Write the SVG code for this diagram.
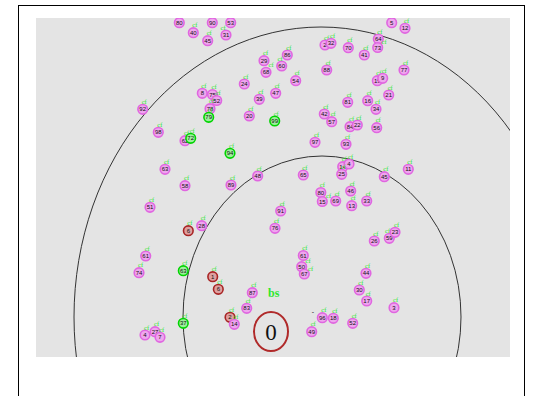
<svg xmlns="http://www.w3.org/2000/svg" width="533" height="396" viewBox="0 0 533 396">
<style>
.n circle{stroke-width:1.6}
.p circle{fill:#eea6ee;stroke:#e066e0}
.g circle{fill:#9cef9c;stroke:#00d400}
.r circle{fill:#dea0a0;stroke:#a82424}
.n text.v{font-family:"Liberation Sans",Arial,sans-serif;font-size:6px;fill:#111;text-anchor:middle}
.n text.c{font-family:"Liberation Serif",serif;font-size:6.5px;fill:#22e422}
.rng{fill:none;stroke:#333;stroke-width:1}
</style>
<defs>
<clipPath id="plot"><rect x="36" y="18" width="474" height="339"/></clipPath>
</defs>
<rect x="0" y="0" width="533" height="396" fill="#fff"/>
<rect x="18.5" y="5.5" width="506" height="400" fill="none" stroke="#000" stroke-width="1"/>
<rect x="36" y="18" width="474" height="339" fill="#e4e4e4"/>
<g clip-path="url(#plot)">
<g id="ranges">
<ellipse class="rng" cx="322" cy="317" rx="139" ry="161"/>
<ellipse class="rng" cx="321" cy="317" rx="247" ry="290"/>
</g>
<g id="connectors"></g>
<g id="bs">
<ellipse cx="271" cy="331.5" rx="17" ry="19.5" fill="none" stroke="#b02a2a" stroke-width="2"/>
<text x="271" y="340" font-family="Liberation Serif,serif" font-size="23" text-anchor="middle" fill="#111">0</text>
<text x="268" y="297" font-family="Liberation Serif,serif" font-size="12" font-weight="bold" fill="#2ee82e">bs</text>
<text x="313" y="314" font-family="Liberation Sans,sans-serif" font-size="7" fill="#222" text-anchor="middle">-</text>
</g>
<g id="n1" class="n p"><circle cx="179.3" cy="22.7" r="4.8"/><text class="v" x="179.3" y="24.8">80</text><text class="c" x="178.3" y="17.2">cf</text></g>
<g id="n2" class="n p"><circle cx="212.3" cy="22.7" r="4.8"/><text class="v" x="212.3" y="24.8">90</text><text class="c" x="211.3" y="17.2">cf</text></g>
<g id="n3" class="n p"><circle cx="230.7" cy="22.7" r="4.8"/><text class="v" x="230.7" y="24.8">53</text><text class="c" x="229.7" y="17.2">cf</text></g>
<g id="n4" class="n p"><circle cx="193.3" cy="32.7" r="4.8"/><text class="v" x="193.3" y="34.8">40</text><text class="c" x="192.3" y="27.2">cf</text></g>
<g id="n5" class="n p"><circle cx="226" cy="35" r="4.8"/><text class="v" x="226" y="37.1">31</text><text class="c" x="220.5" y="30">cf</text></g>
<g id="n6" class="n p"><circle cx="207.7" cy="40.7" r="4.8"/><text class="v" x="207.7" y="42.8">45</text><text class="c" x="206.7" y="35.2">cf</text></g>
<g id="n7" class="n p"><circle cx="264" cy="60.7" r="4.8"/><text class="v" x="264" y="62.8">29</text><text class="c" x="263" y="55.2">cf</text></g>
<g id="n8" class="n p"><circle cx="266" cy="72.3" r="4.8"/><text class="v" x="266" y="74.4">68</text><text class="c" x="268.5" y="67.2">cf</text></g>
<g id="n9" class="n p"><circle cx="244.3" cy="84" r="4.8"/><text class="v" x="244.3" y="86.1">24</text><text class="c" x="243.3" y="78.5">cf</text></g>
<g id="n10" class="n p"><circle cx="202.3" cy="93.3" r="4.8"/><text class="v" x="202.3" y="95.4">8</text><text class="c" x="201.3" y="87.8">cf</text></g>
<g id="n11" class="n p"><circle cx="212.5" cy="94.5" r="4.8"/><text class="v" x="212.5" y="96.6">75</text><text class="c" x="211.5" y="89">cf</text></g>
<g id="n12" class="n p"><circle cx="216.7" cy="100.5" r="4.8"/><text class="v" x="216.7" y="102.6">52</text><text class="c" x="215.7" y="95">cf</text></g>
<g id="n13" class="n p"><circle cx="210" cy="108.7" r="4.8"/><text class="v" x="210" y="110.8">78</text><text class="c" x="209" y="103.2">cf</text></g>
<g id="n14" class="n g"><circle cx="208.7" cy="117.3" r="4.8"/><text class="v" x="208.7" y="119.4">79</text><text class="c" x="207.7" y="111.8">cf</text></g>
<g id="n15" class="n p"><circle cx="259.3" cy="99.3" r="4.8"/><text class="v" x="259.3" y="101.4">39</text><text class="c" x="258.3" y="93.8">cf</text></g>
<g id="n16" class="n p"><circle cx="249.3" cy="116" r="4.8"/><text class="v" x="249.3" y="118.1">20</text><text class="c" x="248.3" y="110.5">cf</text></g>
<g id="n17" class="n p"><circle cx="275.7" cy="93.3" r="4.8"/><text class="v" x="275.7" y="95.4">47</text><text class="c" x="274.7" y="87.8">cf</text></g>
<g id="n18" class="n g"><circle cx="274.7" cy="121" r="4.8"/><text class="v" x="274.7" y="123.1">99</text><text class="c" x="273.7" y="115.5">cf</text></g>
<g id="n19" class="n p"><circle cx="391.7" cy="22.7" r="4.8"/><text class="v" x="391.7" y="24.8">5</text><text class="c" x="390.7" y="17.2">cf</text></g>
<g id="n20" class="n p"><circle cx="405" cy="28.3" r="4.8"/><text class="v" x="405" y="30.4">12</text><text class="c" x="404" y="22.8">cf</text></g>
<g id="n21" class="n p"><circle cx="325" cy="45" r="4.8"/><text class="v" x="325" y="47.1">2</text><text class="c" x="324" y="39.5">cf</text></g>
<g id="n22" class="n p"><circle cx="331" cy="43.3" r="4.8"/><text class="v" x="331" y="45.4">32</text><text class="c" x="330" y="37.8">cf</text></g>
<g id="n23" class="n p"><circle cx="348.3" cy="47.7" r="4.8"/><text class="v" x="348.3" y="49.8">70</text><text class="c" x="347.3" y="42.2">cf</text></g>
<g id="n24" class="n p"><circle cx="364.3" cy="55" r="4.8"/><text class="v" x="364.3" y="57.1">41</text><text class="c" x="363.3" y="49.5">cf</text></g>
<g id="n25" class="n p"><circle cx="378.3" cy="39" r="4.8"/><text class="v" x="378.3" y="41.1">64</text><text class="c" x="377.3" y="33.5">cf</text></g>
<g id="n26" class="n p"><circle cx="377.7" cy="47.5" r="4.8"/><text class="v" x="377.7" y="49.6">73</text><text class="c" x="381.5" y="43.5">cf</text></g>
<g id="n27" class="n p"><circle cx="287.3" cy="55" r="4.8"/><text class="v" x="287.3" y="57.1">86</text><text class="c" x="286.3" y="49.5">cf</text></g>
<g id="n28" class="n p"><circle cx="281.7" cy="66" r="4.8"/><text class="v" x="281.7" y="68.1">60</text><text class="c" x="277.5" y="61">cf</text></g>
<g id="n29" class="n p"><circle cx="326.7" cy="70" r="4.8"/><text class="v" x="326.7" y="72.1">88</text><text class="c" x="325.7" y="64.5">cf</text></g>
<g id="n30" class="n p"><circle cx="295.7" cy="80.7" r="4.8"/><text class="v" x="295.7" y="82.8">54</text><text class="c" x="294.7" y="75.2">cf</text></g>
<g id="n31" class="n p"><circle cx="377.3" cy="80.7" r="4.8"/><text class="v" x="377.3" y="82.8">19</text><text class="c" x="376.3" y="75.2">cf</text></g>
<g id="n32" class="n p"><circle cx="382.7" cy="78.3" r="4.8"/><text class="v" x="382.7" y="80.4">9</text><text class="c" x="381.7" y="72.8">cf</text></g>
<g id="n33" class="n p"><circle cx="388.7" cy="95" r="4.8"/><text class="v" x="388.7" y="97.1">21</text><text class="c" x="387.7" y="89.5">cf</text></g>
<g id="n34" class="n p"><circle cx="347.7" cy="102.3" r="4.8"/><text class="v" x="347.7" y="104.4">81</text><text class="c" x="346.7" y="96.8">cf</text></g>
<g id="n35" class="n p"><circle cx="367.7" cy="100.7" r="4.8"/><text class="v" x="367.7" y="102.8">16</text><text class="c" x="366.7" y="95.2">cf</text></g>
<g id="n36" class="n p"><circle cx="376" cy="109.3" r="4.8"/><text class="v" x="376" y="111.4">34</text><text class="c" x="375" y="103.8">cf</text></g>
<g id="n37" class="n p"><circle cx="324.3" cy="114" r="4.8"/><text class="v" x="324.3" y="116.1">42</text><text class="c" x="323.3" y="108.5">cf</text></g>
<g id="n38" class="n p"><circle cx="331.7" cy="121.7" r="4.8"/><text class="v" x="331.7" y="123.8">57</text><text class="c" x="330.7" y="116.2">cf</text></g>
<g id="n39" class="n p"><circle cx="350" cy="126.7" r="4.8"/><text class="v" x="350" y="128.8">84</text><text class="c" x="349" y="121.2">cf</text></g>
<g id="n40" class="n p"><circle cx="357.3" cy="125" r="4.8"/><text class="v" x="357.3" y="127.1">22</text><text class="c" x="356.3" y="119.5">cf</text></g>
<g id="n41" class="n p"><circle cx="376.7" cy="127.7" r="4.8"/><text class="v" x="376.7" y="129.8">56</text><text class="c" x="375.7" y="122.2">cf</text></g>
<g id="n42" class="n p"><circle cx="404" cy="70" r="4.8"/><text class="v" x="404" y="72.1">77</text><text class="c" x="403" y="64.5">cf</text></g>
<g id="n43" class="n p"><circle cx="142.7" cy="109.3" r="4.8"/><text class="v" x="142.7" y="111.4">92</text><text class="c" x="141.7" y="103.8">cf</text></g>
<g id="n44" class="n p"><circle cx="158.3" cy="132.3" r="4.8"/><text class="v" x="158.3" y="134.4">98</text><text class="c" x="157.3" y="126.8">cf</text></g>
<g id="n45" class="n p"><circle cx="185" cy="140.7" r="4.8"/><text class="v" x="185" y="142.8">62</text><text class="c" x="184" y="135.2">cf</text></g>
<g id="n46" class="n g"><circle cx="190.7" cy="138.3" r="4.8"/><text class="v" x="190.7" y="140.4">72</text><text class="c" x="189.7" y="132.8">cf</text></g>
<g id="n47" class="n g"><circle cx="230" cy="153.3" r="4.8"/><text class="v" x="230" y="155.4">94</text><text class="c" x="229" y="147.8">cf</text></g>
<g id="n48" class="n p"><circle cx="165" cy="169.3" r="4.8"/><text class="v" x="165" y="171.4">63</text><text class="c" x="164" y="163.8">cf</text></g>
<g id="n49" class="n p"><circle cx="185" cy="185.7" r="4.8"/><text class="v" x="185" y="187.8">58</text><text class="c" x="184" y="180.2">cf</text></g>
<g id="n50" class="n p"><circle cx="231" cy="185" r="4.8"/><text class="v" x="231" y="187.1">89</text><text class="c" x="230" y="179.5">cf</text></g>
<g id="n51" class="n p"><circle cx="257.7" cy="176" r="4.8"/><text class="v" x="257.7" y="178.1">48</text><text class="c" x="256.7" y="170.5">cf</text></g>
<g id="n52" class="n p"><circle cx="150" cy="207.3" r="4.8"/><text class="v" x="150" y="209.4">51</text><text class="c" x="149" y="201.8">cf</text></g>
<g id="n53" class="n r"><circle cx="188.3" cy="230.7" r="4.8"/><text class="v" x="188.3" y="232.8">6</text><text class="c" x="187.3" y="225.2">cf</text></g>
<g id="n54" class="n p"><circle cx="201.7" cy="225.7" r="4.8"/><text class="v" x="201.7" y="227.8">28</text><text class="c" x="200.7" y="220.2">cf</text></g>
<g id="n55" class="n p"><circle cx="275" cy="228.3" r="4.8"/><text class="v" x="275" y="230.4">76</text><text class="c" x="274" y="222.8">cf</text></g>
<g id="n56" class="n p"><circle cx="315" cy="142.3" r="4.8"/><text class="v" x="315" y="144.4">97</text><text class="c" x="314" y="136.8">cf</text></g>
<g id="n57" class="n p"><circle cx="346" cy="144.3" r="4.8"/><text class="v" x="346" y="146.4">93</text><text class="c" x="345" y="138.8">cf</text></g>
<g id="n58" class="n p"><circle cx="303.3" cy="175" r="4.8"/><text class="v" x="303.3" y="177.1">65</text><text class="c" x="302.3" y="169.5">cf</text></g>
<g id="n59" class="n p"><circle cx="342.7" cy="166.7" r="4.8"/><text class="v" x="342.7" y="168.8">14</text><text class="c" x="341.7" y="161.2">cf</text></g>
<g id="n60" class="n p"><circle cx="349" cy="164" r="4.8"/><text class="v" x="349" y="166.1">4</text><text class="c" x="348" y="158.5">cf</text></g>
<g id="n61" class="n p"><circle cx="341.7" cy="174.3" r="4.8"/><text class="v" x="341.7" y="176.4">25</text><text class="c" x="340.7" y="168.8">cf</text></g>
<g id="n62" class="n p"><circle cx="384.3" cy="176.7" r="4.8"/><text class="v" x="384.3" y="178.8">45</text><text class="c" x="383.3" y="171.2">cf</text></g>
<g id="n63" class="n p"><circle cx="320.8" cy="192.5" r="4.8"/><text class="v" x="320.8" y="194.6">80</text><text class="c" x="319.8" y="187">cf</text></g>
<g id="n64" class="n p"><circle cx="322.3" cy="201.5" r="4.8"/><text class="v" x="322.3" y="203.6">15</text><text class="c" x="326" y="197.5">cf</text></g>
<g id="n65" class="n p"><circle cx="335.7" cy="201" r="4.8"/><text class="v" x="335.7" y="203.1">69</text><text class="c" x="334.7" y="195.5">cf</text></g>
<g id="n66" class="n p"><circle cx="350.7" cy="191" r="4.8"/><text class="v" x="350.7" y="193.1">46</text><text class="c" x="349.7" y="185.5">cf</text></g>
<g id="n67" class="n p"><circle cx="351.7" cy="205.7" r="4.8"/><text class="v" x="351.7" y="207.8">13</text><text class="c" x="350.7" y="200.2">cf</text></g>
<g id="n68" class="n p"><circle cx="366.7" cy="201" r="4.8"/><text class="v" x="366.7" y="203.1">33</text><text class="c" x="365.7" y="195.5">cf</text></g>
<g id="n69" class="n p"><circle cx="280.7" cy="211" r="4.8"/><text class="v" x="280.7" y="213.1">91</text><text class="c" x="279.7" y="205.5">cf</text></g>
<g id="n70" class="n p"><circle cx="374.3" cy="241" r="4.8"/><text class="v" x="374.3" y="243.1">26</text><text class="c" x="373.3" y="235.5">cf</text></g>
<g id="n71" class="n p"><circle cx="389.3" cy="238.3" r="4.8"/><text class="v" x="389.3" y="240.4">59</text><text class="c" x="385" y="233">cf</text></g>
<g id="n72" class="n p"><circle cx="408.3" cy="169.3" r="4.8"/><text class="v" x="408.3" y="171.4">11</text><text class="c" x="407.3" y="163.8">cf</text></g>
<g id="n73" class="n p"><circle cx="395" cy="232.3" r="4.8"/><text class="v" x="395" y="234.4">23</text><text class="c" x="394" y="226.8">cf</text></g>
<g id="n74" class="n p"><circle cx="145.7" cy="256" r="4.8"/><text class="v" x="145.7" y="258.1">61</text><text class="c" x="144.7" y="250.5">cf</text></g>
<g id="n75" class="n p"><circle cx="139" cy="272.7" r="4.8"/><text class="v" x="139" y="274.8">74</text><text class="c" x="138" y="267.2">cf</text></g>
<g id="n76" class="n p"><circle cx="145" cy="335" r="4.8"/><text class="v" x="145" y="337.1">4</text><text class="c" x="144" y="329.5">cf</text></g>
<g id="n77" class="n g"><circle cx="183.3" cy="270.7" r="4.8"/><text class="v" x="183.3" y="272.8">63</text><text class="c" x="182.3" y="265.2">cf</text></g>
<g id="n78" class="n r"><circle cx="212.7" cy="276.7" r="4.8"/><text class="v" x="212.7" y="278.8">1</text><text class="c" x="211.7" y="271.2">cf</text></g>
<g id="n79" class="n r"><circle cx="218.3" cy="289.3" r="4.8"/><text class="v" x="218.3" y="291.4">6</text><text class="c" x="217.3" y="283.8">cf</text></g>
<g id="n80" class="n p"><circle cx="252.3" cy="292.7" r="4.8"/><text class="v" x="252.3" y="294.8">87</text><text class="c" x="251.3" y="287.2">cf</text></g>
<g id="n81" class="n p"><circle cx="246.7" cy="308.3" r="4.8"/><text class="v" x="246.7" y="310.4">83</text><text class="c" x="245.7" y="302.8">cf</text></g>
<g id="n82" class="n r"><circle cx="230" cy="317.3" r="4.8"/><text class="v" x="230" y="319.4">2</text><text class="c" x="229" y="311.8">cf</text></g>
<g id="n83" class="n p"><circle cx="234.3" cy="324.3" r="4.8"/><text class="v" x="234.3" y="326.4">14</text><text class="c" x="233.3" y="318.8">cf</text></g>
<g id="n84" class="n g"><circle cx="183.3" cy="323.3" r="4.8"/><text class="v" x="183.3" y="325.4">37</text><text class="c" x="182.3" y="317.8">cf</text></g>
<g id="n85" class="n p"><circle cx="155" cy="331.7" r="4.8"/><text class="v" x="155" y="333.8">27</text><text class="c" x="154" y="326.2">cf</text></g>
<g id="n86" class="n p"><circle cx="160" cy="337.3" r="4.8"/><text class="v" x="160" y="339.4">7</text><text class="c" x="159" y="331.8">cf</text></g>
<g id="n87" class="n p"><circle cx="303.3" cy="255.5" r="4.8"/><text class="v" x="303.3" y="257.6">61</text><text class="c" x="302.3" y="250">cf</text></g>
<g id="n88" class="n p"><circle cx="301.7" cy="266.7" r="4.8"/><text class="v" x="301.7" y="268.8">50</text><text class="c" x="305.5" y="262.5">cf</text></g>
<g id="n89" class="n p"><circle cx="304.3" cy="274" r="4.8"/><text class="v" x="304.3" y="276.1">67</text><text class="c" x="308" y="270.5">cf</text></g>
<g id="n90" class="n p"><circle cx="366" cy="273.3" r="4.8"/><text class="v" x="366" y="275.4">44</text><text class="c" x="365" y="267.8">cf</text></g>
<g id="n91" class="n p"><circle cx="359.3" cy="290" r="4.8"/><text class="v" x="359.3" y="292.1">30</text><text class="c" x="358.3" y="284.5">cf</text></g>
<g id="n92" class="n p"><circle cx="366.7" cy="301" r="4.8"/><text class="v" x="366.7" y="303.1">17</text><text class="c" x="365.7" y="295.5">cf</text></g>
<g id="n93" class="n p"><circle cx="322.3" cy="317.7" r="4.8"/><text class="v" x="322.3" y="319.8">96</text><text class="c" x="321.3" y="312.2">cf</text></g>
<g id="n94" class="n p"><circle cx="333.3" cy="318.3" r="4.8"/><text class="v" x="333.3" y="320.4">18</text><text class="c" x="332.3" y="312.8">cf</text></g>
<g id="n95" class="n p"><circle cx="352.7" cy="323.3" r="4.8"/><text class="v" x="352.7" y="325.4">52</text><text class="c" x="351.7" y="317.8">cf</text></g>
<g id="n96" class="n p"><circle cx="311.7" cy="331.7" r="4.8"/><text class="v" x="311.7" y="333.8">49</text><text class="c" x="310.7" y="326.2">cf</text></g>
<g id="n97" class="n p"><circle cx="394" cy="307.7" r="4.8"/><text class="v" x="394" y="309.8">3</text><text class="c" x="393" y="302.2">cf</text></g>
</g>
</svg>
